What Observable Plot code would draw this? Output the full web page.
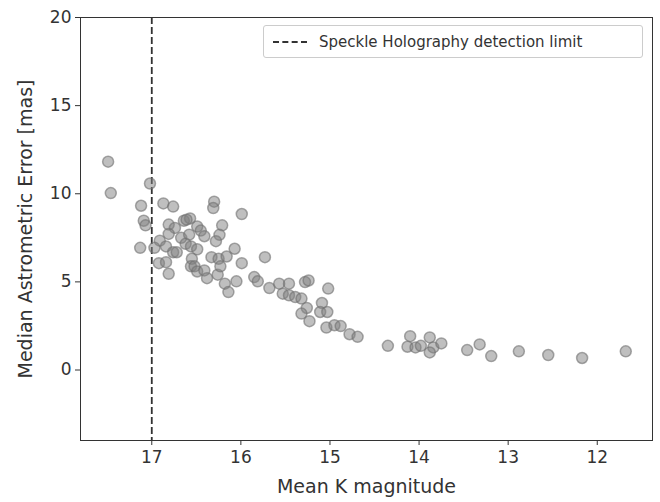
<!DOCTYPE html>
<html><head><meta charset="utf-8">
<script src="https://cdn.jsdelivr.net/npm/d3@7"></script>
<script src="https://cdn.jsdelivr.net/npm/@observablehq/plot@0.6"></script>
<style>body{margin:0;background:#fff;font-family:"DejaVu Sans",sans-serif}#c{position:relative;width:660px;height:502px}
#lg{position:absolute;left:263px;top:25px;width:378px;height:31px;border:1px solid #ccc;border-radius:3px;background:#fff;font-size:15px;color:#333;display:flex;align-items:center}
#lg span.l{display:inline-block;width:34px;border-top:2px dashed #333;margin:0 12px 0 9px}</style>
</head><body><div id="c"><div id="lg" style="display:none"></div></div>
<script>
const mag=[17.49,17.46,17.02,17.12,16.87,16.76,16.30,16.31,15.99,17.09,17.07,16.81,16.64,16.57,16.61,16.74,16.49,16.21,16.81,16.45,16.41,16.24,16.67,16.58,16.91,16.28,17.13,16.97,16.84,16.76,16.72,16.62,16.56,16.49,16.07,16.92,16.84,16.55,16.33,16.25,16.16,15.73,16.81,16.56,16.52,16.49,16.41,16.38,16.26,16.23,15.99,16.18,16.14,16.05,15.85,15.81,15.68,15.57,15.46,15.53,15.46,15.39,15.32,15.28,15.24,15.02,15.26,15.32,15.23,15.09,15.11,15.03,15.04,14.95,14.88,14.78,14.69,14.35,14.10,13.88,14.13,14.04,13.98,13.84,13.88,13.75,13.46,13.32,13.19,12.88,12.55,12.17,11.68];
const err=[11.82,10.04,10.58,9.32,9.45,9.27,9.55,9.19,8.85,8.47,8.21,8.25,8.47,8.60,8.53,8.06,8.14,8.21,7.72,7.91,7.59,7.67,7.50,7.68,7.34,7.31,6.93,6.93,7.01,6.68,6.68,7.16,7.01,6.85,6.88,6.06,6.12,6.31,6.40,6.31,6.44,6.40,5.46,5.88,5.88,5.59,5.65,5.21,5.41,5.88,6.06,4.90,4.42,5.03,5.27,5.03,4.65,4.90,4.90,4.33,4.24,4.14,4.05,4.99,5.08,4.62,3.52,3.20,2.77,3.80,3.29,3.29,2.41,2.54,2.49,2.03,1.88,1.37,1.92,1.85,1.32,1.28,1.37,1.28,1.00,1.51,1.13,1.45,0.79,1.06,0.85,0.68,1.06];
const xTicks=[17,16,15,14,13,12], yTicks=[0,5,10,15,20];
const limit=17;
const legendLabel="Speckle Holography detection limit";
const data=mag.map((m,i)=>({m,e:err[i]}));
const p=Plot.plot({width:660,height:502,marginLeft:80,marginRight:8,marginTop:17,marginBottom:62,
 style:{fontSize:"17px",fontFamily:"DejaVu Sans",color:"#333"},
 x:{domain:[17.8,11.38]},
 y:{domain:[-4,20]},
 marks:[
  Plot.frame({stroke:"#333"}),
  Plot.axisX({ticks:xTicks,tickFormat:d=>d,label:"Mean K magnitude",labelAnchor:"center",labelOffset:52,labelArrow:"none",tickSize:5,tickPadding:5,fontSize:17}),
  Plot.axisY({ticks:yTicks,label:"Median Astrometric Error [mas]",labelAnchor:"center",labelOffset:62,labelArrow:"none",tickSize:5,fontSize:17}),
  Plot.ruleX([limit],{stroke:"#333",strokeWidth:1.8,strokeDasharray:"7,3"}),
  Plot.dot(data,{x:"m",y:"e",r:5.5,fill:"#808080",fillOpacity:0.5,stroke:"#707070",strokeOpacity:0.6})
 ]});
p.querySelectorAll("g[aria-label='x-axis label'] text, g[aria-label='y-axis label'] text").forEach(t=>t.style.fontSize="19px");
document.getElementById("c").prepend(p);
const lg=document.getElementById("lg");lg.style.display="flex";
lg.innerHTML='<span class="l"></span><span>'+legendLabel+'</span>';
</script></body></html>
